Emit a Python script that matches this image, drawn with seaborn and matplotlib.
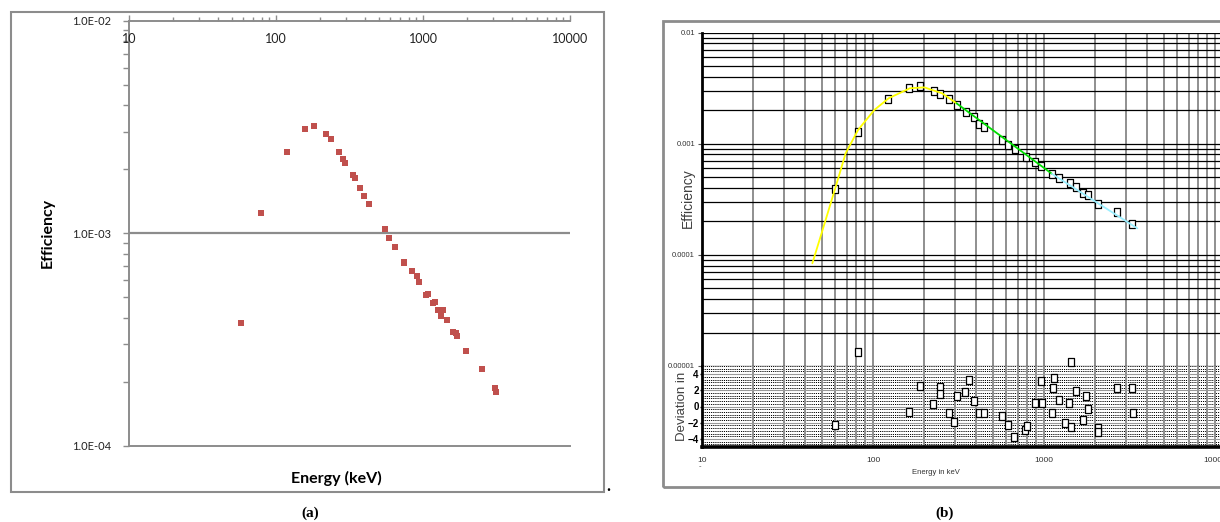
import numpy as np
import pandas as pd
import matplotlib
matplotlib.use("Agg")
import matplotlib.pyplot as plt
import matplotlib.ticker as mticker
import matplotlib.transforms as mtrans
from matplotlib.markers import MarkerStyle
from matplotlib.patches import Rectangle
from matplotlib import font_manager
import seaborn as sns

# ---------------- data: panel (a) ----------------
a_energy_keV = [58.1, 78.7, 118.3, 156.7, 181.6, 217.7, 236.6, 268.3, 285.9, 293.3,
                332.3, 344.6, 372.3, 396.8, 429.5, 548, 587, 641, 742.5, 748,
                841, 910, 935, 1047, 1081, 1169, 1207, 1259, 1362, 1331,
                1455, 1600, 1695, 1668, 1951, 2518, 3076, 3124]
a_efficiency = [3.79e-4, 1.24e-3, 2.40e-3, 3.08e-3, 3.19e-3, 2.92e-3, 2.79e-3, 2.42e-3, 2.24e-3, 2.15e-3,
                1.87e-3, 1.82e-3, 1.64e-3, 1.50e-3, 1.37e-3, 1.05e-3, 9.53e-4, 8.61e-4, 7.31e-4, 7.25e-4,
                6.64e-4, 6.29e-4, 5.89e-4, 5.14e-4, 5.20e-4, 4.68e-4, 4.74e-4, 4.34e-4, 4.33e-4, 4.07e-4,
                3.91e-4, 3.43e-4, 3.28e-4, 3.39e-4, 2.80e-4, 2.30e-4, 1.87e-4, 1.79e-4]
a_ytick_values = [1e-4, 1e-3, 1e-2]
a_xtick_labels = ["10", "100", "1000", "10000"]
a_xtick_values = [10, 100, 1000, 10000]

# ---------------- data: panel (b) ----------------
b_energy_keV = [59.9, 82.0, 122.7, 163, 187.5, 226, 245, 279, 308, 348,
                390, 415, 446, 570, 618, 673, 782, 886, 960, 1114,
                1228, 1419, 1538, 1690, 1808, 2056, 2655, 3275]
b_efficiency = [3.89e-4, 1.28e-3, 2.52e-3, 3.17e-3, 3.30e-3, 2.98e-3, 2.82e-3, 2.51e-3, 2.24e-3, 1.93e-3,
                1.75e-3, 1.50e-3, 1.42e-3, 1.08e-3, 9.72e-4, 8.95e-4, 7.55e-4, 6.89e-4, 6.34e-4, 5.34e-4,
                4.89e-4, 4.40e-4, 4.06e-4, 3.58e-4, 3.46e-4, 2.87e-4, 2.42e-4, 1.90e-4]

fit_low_energy = [44.2, 50.7, 60, 69.2, 81.8, 101.8, 123.4, 164.4, 199.5, 253.4, 307.6]
fit_low_eff = [8.4e-5, 1.67e-4, 3.92e-4, 8.2e-4, 1.33e-3, 2.01e-3, 2.56e-3, 3.15e-3, 3.21e-3, 2.84e-3, 2.31e-3]
fit_mid_energy = [307.6, 1114]
fit_mid_eff = [2.31e-3, 5.35e-4]
fit_high_energy = [1114, 3515]
fit_high_eff = [5.35e-4, 1.73e-4]

dev_energy_keV = [81.7, 60.3, 163, 188, 225, 246.6, 246.6, 279, 297.6, 308.6,
                  346.6, 363, 390, 417, 448, 568, 618, 668, 778, 793,
                  883, 957, 978, 1109, 1124, 1140, 1228, 1327, 1406, 1433,
                  1438, 1538, 1690, 1762, 1802, 2062, 2070, 2661, 3282, 3302]
deviation = [6.7, -2.28, -0.65, 2.52, 0.37, 2.35, 1.55, -0.77, -1.91, 1.30,
             1.74, 3.29, 0.73, -0.77, -0.85, -1.14, -2.23, -3.74, -2.84, -2.40,
             0.49, 3.09, 0.41, -0.85, 2.28, 3.58, 0.81, -1.99, 0.41, -2.52,
             5.53, 1.87, -1.71, 1.34, -0.37, -2.64, -3.2, 2.23, 2.23, -0.85]

b_ytick_values = [1e-5, 1e-4, 1e-3, 1e-2]
b_ytick_labels = ["0.00001", "0.0001", "0.001", "0.01"]
dev_tick_values = [-4, -2, 0, 2, 4]
b_xtick_values = [10, 100, 1000, 10000]
b_xtick_labels = ["10", "100", "1000", "10000"]

# ---------------- style ----------------
sns.set_theme(style="white")
plt.rcParams["font.family"] = ["Lato", "DejaVu Sans"]
names = {f.name for f in font_manager.fontManager.ttflist}
narrow = "Liberation Sans Narrow" if "Liberation Sans Narrow" in names else "Liberation Sans"

W, H = 1220, 522
fig = plt.figure(figsize=(W / 100, H / 100), dpi=100)
fig.patch.set_facecolor("white")


def rect(l, t, r, b):
    return [l / W, 1 - b / H, (r - l) / W, (b - t) / H]


gray = "#8C8C8C"

# ================= panel (a) =================
ax_a = fig.add_axes(rect(129, 20.7, 570, 445.7))
ax_a.set_xscale("log")
ax_a.set_yscale("log")
sns.scatterplot(x=a_energy_keV, y=a_efficiency, ax=ax_a, marker="s", s=22,
                color="#C0504D", linewidth=0, zorder=5)
ax_a.set_xlim(10, 10000)
ax_a.set_ylim(1e-4, 1e-2)
ax_a.grid(False)
for sp in ["left", "top", "bottom"]:
    ax_a.spines[sp].set_color(gray)
    ax_a.spines[sp].set_linewidth(1.4)
ax_a.spines["right"].set_visible(False)
ax_a.axhline(1e-3, color=gray, lw=1.6, zorder=1)

ax_a.xaxis.set_ticks_position("top")
ax_a.xaxis.set_major_locator(mticker.FixedLocator(a_xtick_values))
ax_a.xaxis.set_minor_locator(mticker.LogLocator(base=10, subs=range(2, 10), numticks=20))
ax_a.tick_params(axis="x", which="both", top=True, bottom=False, labeltop=False,
                 labelbottom=False, direction="out", color=gray, width=1)
ax_a.tick_params(axis="x", which="major", length=4)
ax_a.tick_params(axis="x", which="minor", length=3)
tr = mtrans.offset_copy(mtrans.blended_transform_factory(ax_a.transData, ax_a.transAxes),
                        fig=fig, y=-18, units="dots")
for v, lab in zip(a_xtick_values, a_xtick_labels):
    ax_a.text(v, 1, lab, transform=tr, ha="center", va="center", fontsize=9, color="#222222")

ax_a.yaxis.set_major_locator(mticker.FixedLocator(a_ytick_values))
ax_a.yaxis.set_minor_locator(mticker.LogLocator(base=10, subs=range(2, 10), numticks=20))
ax_a.yaxis.set_minor_formatter(mticker.NullFormatter())
ax_a.yaxis.set_major_formatter(mticker.FuncFormatter(lambda v, p: f"{v:.1E}"))
ax_a.tick_params(axis="y", which="both", left=True, direction="out", color=gray, width=1)
ax_a.tick_params(axis="y", which="major", length=4, pad=9, labelsize=8, labelcolor="#222222")
ax_a.tick_params(axis="y", which="minor", length=4)
ax_a.set_xlabel("")
ax_a.set_ylabel("")

fig.text(48 / W, 1 - 233 / H, "Efficiency", rotation=90, ha="center", va="center",
         fontsize=11.5, fontweight="bold", color="black")
fig.text(336 / W, 1 - 478 / H, "Energy (keV)", ha="center", va="center",
         fontsize=11.5, fontweight="bold", color="black")
fig.text(608 / W, 1 - 486 / H, ".", ha="center", va="center", fontsize=12,
         fontweight="bold", color="black")
fig.text(310 / W, 1 - 513 / H, "(a)", ha="center", va="center", fontsize=11,
         fontweight="bold", family="Liberation Serif", color="black")
fig.patches.append(Rectangle((10.7 / W, 1 - 492 / H), (604 - 10.7) / W, (492 - 11.7) / H,
                             transform=fig.transFigure, fill=False, ec=gray, lw=1.5))

# ================= panel (b) =================
xmax_b = 10 ** (1 + (1220 - 702) / 171)
ax_b = fig.add_axes(rect(702, 32.5, 1220, 366))
ax_d = fig.add_axes(rect(702, 366, 1220, 447))

box_marker = MarkerStyle([(-0.38, -0.5), (0.38, -0.5), (0.38, 0.5), (-0.38, 0.5), (-0.38, -0.5)])

for ax in (ax_b, ax_d):
    ax.set_xscale("log")
    ax.set_xlim(10, xmax_b)
    ax.xaxis.set_major_locator(mticker.FixedLocator(b_xtick_values))
    ax.xaxis.set_minor_locator(mticker.LogLocator(base=10, subs=range(2, 10), numticks=20))
    ax.xaxis.set_minor_formatter(mticker.NullFormatter())
    ax.grid(True, which="both", axis="x", color="#8F8F8F", lw=1.4)
    ax.set_axisbelow(True)
    for sp in ["top", "right"]:
        ax.spines[sp].set_visible(False)
    ax.spines["left"].set_color("black")
    ax.spines["left"].set_linewidth(2)

ax_b.set_yscale("log")
ax_b.set_ylim(1e-5, 1e-2)
ax_b.yaxis.set_major_locator(mticker.FixedLocator(b_ytick_values))
ax_b.yaxis.set_major_formatter(mticker.FixedFormatter(b_ytick_labels))
ax_b.yaxis.set_minor_locator(mticker.LogLocator(base=10, subs=range(2, 10), numticks=20))
ax_b.yaxis.set_minor_formatter(mticker.NullFormatter())
ax_b.grid(True, which="both", axis="y", color="black", lw=0.9)
ax_b.spines["bottom"].set_visible(False)
ax_b.tick_params(axis="x", which="both", bottom=False, labelbottom=False)
ax_b.tick_params(axis="y", which="major", left=True, length=3, width=0.8, color="#555555",
                 pad=2, labelsize=5.5, labelcolor="#333333")
ax_b.tick_params(axis="y", which="minor", left=False)
for lab in ax_b.get_yticklabels():
    lab.set_family(narrow)

sns.lineplot(x=fit_low_energy, y=fit_low_eff, ax=ax_b, color="#FFFF00", lw=1.3,
             sort=False, estimator=None, zorder=6)
sns.lineplot(x=fit_mid_energy, y=fit_mid_eff, ax=ax_b, color="#00DD00", lw=1.3,
             sort=False, estimator=None, zorder=6)
sns.lineplot(x=fit_high_energy, y=fit_high_eff, ax=ax_b, color="#9BEFFF", lw=1.3,
             sort=False, estimator=None, zorder=6)
sns.scatterplot(x=b_energy_keV, y=b_efficiency, ax=ax_b, marker=box_marker, s=34,
                color="white", edgecolor="black", linewidth=0.9, zorder=5)
ax_b.set_xlabel("")
ax_b.set_ylabel("")

ax_d.set_ylim(-5, 5)
for k in range(31):
    ax_d.axhline(-5 + k / 3, color="black", lw=0.7, ls=(0, (1.2, 1.0)), zorder=0.5)
for v in dev_tick_values:
    ax_d.axhline(v, color="#999999", lw=0.8, zorder=0.6)
ax_d.spines["bottom"].set_color("black")
ax_d.spines["bottom"].set_linewidth(2.6)
ax_d.yaxis.set_major_locator(mticker.FixedLocator(dev_tick_values))
ax_d.tick_params(axis="y", which="major", left=True, length=1.5, width=1, color="black",
                 pad=0.8, labelsize=7, labelcolor="black")
ax_d.tick_params(axis="x", which="both", bottom=False, length=0, pad=7,
                 labelsize=6, labelcolor="#333333")
ax_d.xaxis.set_major_formatter(mticker.FixedFormatter(b_xtick_labels))
for lab in ax_d.get_yticklabels():
    lab.set_fontweight("bold")
    lab.set_family("Liberation Sans")
for lab in ax_d.get_xticklabels():
    lab.set_family(narrow)
sns.scatterplot(x=dev_energy_keV, y=deviation, ax=ax_d, marker=box_marker, s=34,
                color="white", edgecolor="black", linewidth=0.9, zorder=5, clip_on=False)
ax_d.set_xlabel("")
ax_d.set_ylabel("")

fig.text(688 / W, 1 - 198 / H, "Efficiency", rotation=90, ha="center", va="center",
         fontsize=10, color="#404040", family="Liberation Sans")
fig.text(682 / W, 1 - 406 / H, "Deviation in", rotation=90, ha="center", va="center",
         fontsize=9.5, color="#404040", family="Liberation Sans")
fig.text(936 / W, 1 - 472 / H, "Energy in keV", ha="center", va="center",
         fontsize=5.5, color="#333333", family=narrow)
fig.text(700 / W, 1 - 467 / H, "-", ha="center", va="center",
         fontsize=5.5, color="#555555", family=narrow)
fig.text(945 / W, 1 - 513 / H, "(b)", ha="center", va="center", fontsize=11,
         fontweight="bold", family="Liberation Serif", color="black")
fig.patches.append(Rectangle((662.7 / W, 1 - 486.7 / H), (1230 - 662.7) / W, (486.7 - 20.7) / H,
                             transform=fig.transFigure, fill=False, ec=gray, lw=2, clip_on=False))

fig.savefig("out.png", dpi=100, facecolor="white")
